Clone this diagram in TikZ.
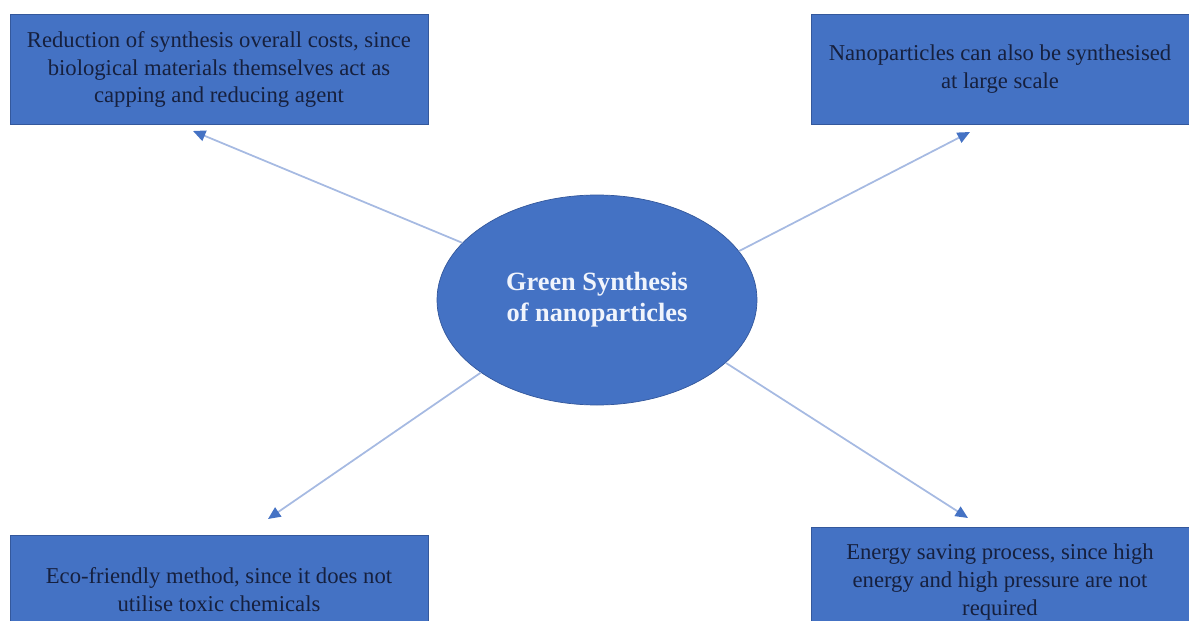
\documentclass[tikz,border=0pt]{standalone}
\usepackage{fontspec}
\setmainfont{Liberation Serif}
\usepackage{xcolor}
\usetikzlibrary{arrows.meta, shapes.geometric}

\definecolor{boxblue}{RGB}{68,114,196}
\definecolor{edgeblue}{RGB}{52,88,156}
\definecolor{inkblue}{RGB}{22,32,62}
\definecolor{lineblue}{RGB}{166,186,226}

\begin{document}
\begin{tikzpicture}[
  box/.style={draw=edgeblue, fill=boxblue, minimum height=2.2cm, align=center,
    text=inkblue, font=\fontsize{12.9}{15.9}\selectfont},
  link/.style={-{Triangle[length=2.5mm, width=2.2mm, color=boxblue]}, draw=lineblue, line width=1pt}
]
  \path[use as bounding box] (0,0) rectangle (23.78,12.4);
  \clip (0,0) rectangle (23.78,12.4);

  % Centre
  \node[ellipse, draw=edgeblue, fill=boxblue, minimum width=6.4cm, minimum height=4.2cm,
    align=center, text={rgb,255:red,240;green,244;blue,252},
    font=\fontsize{15}{17.5}\selectfont\bfseries] (syn) at (11.94,6.4)
    {Green Synthesis\\of nanoparticles};

  % Boxes
  \node[box, minimum width=8.36cm] (cost) at (4.38,11.01)
    {Reduction of synthesis overall costs, since\\biological materials themselves act as\\capping and reducing agent};
  \node[box, minimum width=7.56cm] (scale) at (20.0,11.01)
    {Nanoparticles can also be synthesised\\at large scale};
  \node[box, minimum width=8.36cm] (eco) at (4.38,0.6)
    {Eco-friendly method, since it does not\\utilise toxic chemicals};
  \node[box, minimum width=7.56cm] (energy) at (20.0,0.76)
    {Energy saving process, since high\\energy and high pressure are not\\required};

  % Arrow tips
  \coordinate (tl) at (3.86,9.78);
  \coordinate (tr) at (19.4,9.76);
  \coordinate (bl) at (5.36,2.02);
  \coordinate (br) at (19.36,2.04);

  % Arrows
  \draw[link] (syn.157) -- (tl);
  \draw[link] (syn.19) -- (tr);
  \draw[link] (syn.212) -- (bl);
  \draw[link] (syn.-26) -- (br);
\end{tikzpicture}
\end{document}
